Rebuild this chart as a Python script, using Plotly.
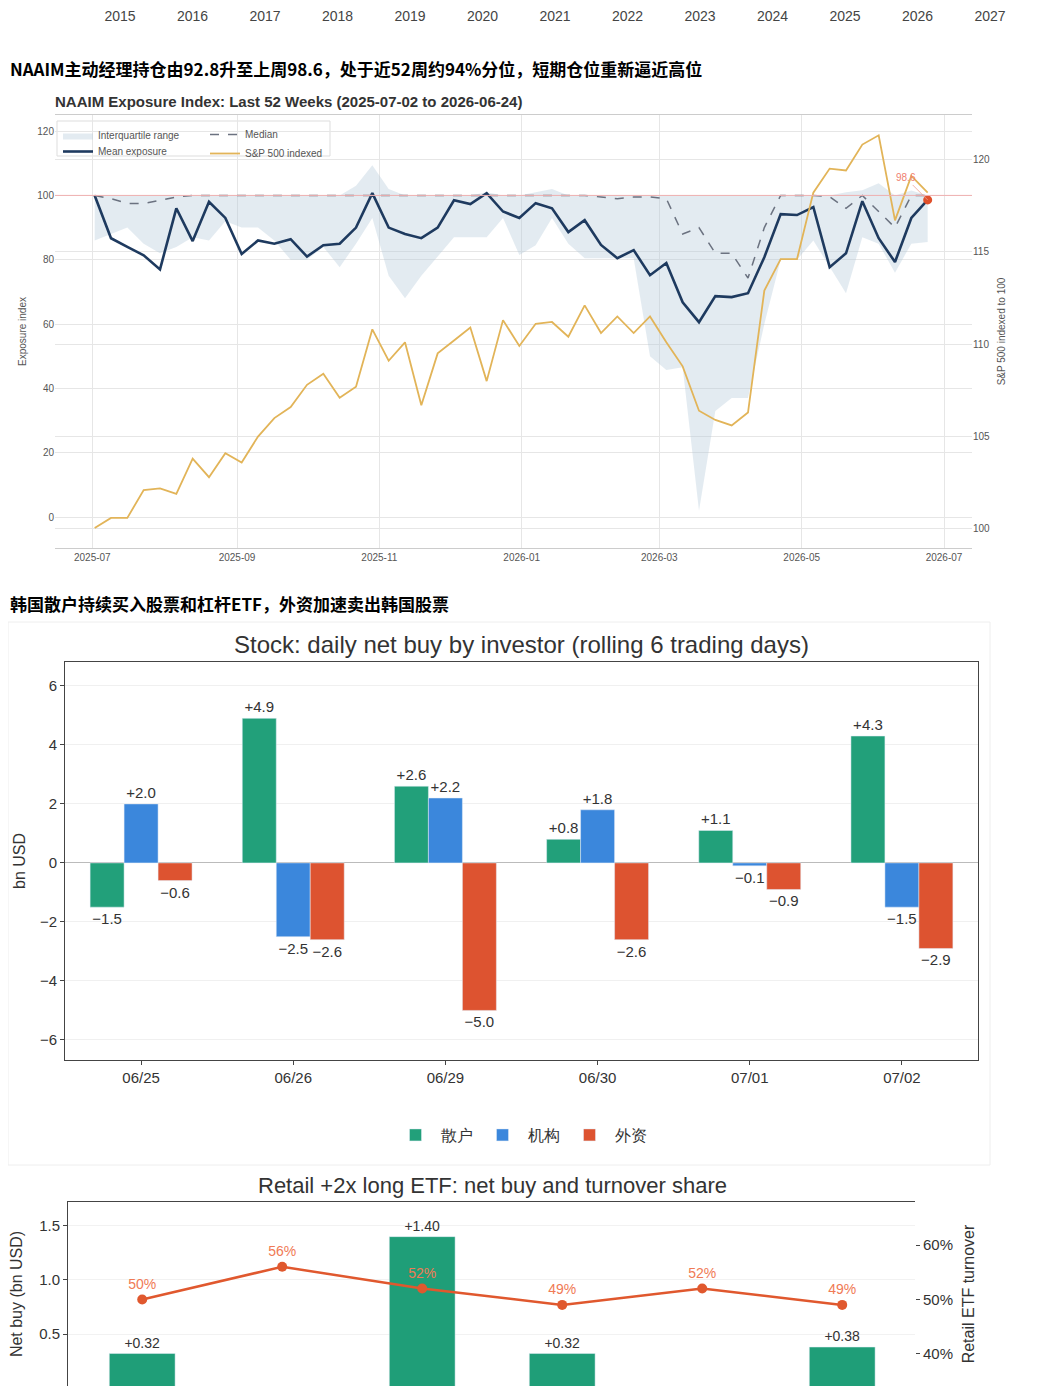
import pandas as pd
import plotly.graph_objects as go

# ---------- data ----------
years = list(range(2015, 2028))

weeks = pd.date_range("2025-07-02", periods=52, freq="7D")
mean_exposure = [100, 86.7, 84, 81.4, 77, 96, 85.8, 98, 93, 81.8, 86, 85, 86.4, 81, 84.5, 85, 90, 100.7,
                 90, 88, 86.7, 90, 98.5, 97.3, 100.7, 95, 93, 97.6, 96, 88.6, 92.3, 84.6, 80.5, 83, 75.2,
                 79, 66.8, 60.6, 68.7, 68.4, 69.6, 80.8, 94.2, 93.9, 96.4, 77.7, 82, 98.2, 86.7, 79.3, 93, 98.6]
median_exposure = [100, 99, 97.5, 97.5, 98.5, 99.5, 100, 100, 100, 100, 100, 100, 100, 100, 100, 100, 100, 100,
                   100, 100, 100, 100, 100, 100, 100, 100, 100, 100, 100, 100, 100, 99.5, 99, 99.5, 99.5,
                   99, 88, 90, 82, 82, 74.3, 90, 100, 100, 100, 99.6, 96, 100, 95, 90, 100, 100]
iqr_low = [86, 88, 90, 85, 82, 84, 87, 86, 92, 90, 90, 86, 80, 80, 84, 77.7, 85, 93, 75, 68, 75, 81, 87, 87,
           87, 93, 81.5, 84.5, 93, 85, 80.5, 80.5, 80.5, 80.5, 50, 45.7, 46.6, 2, 33, 37, 37, 60, 80, 80,
           86, 77.7, 69.6, 87, 85, 76, 85, 85.5]
iqr_high = [100, 100, 100, 100, 100, 100, 100, 100, 100, 100, 100, 100, 100, 100, 100, 100, 103, 109.4,
            102, 100, 100, 100, 100, 100, 101, 100, 100, 101, 102, 100, 100, 100, 100, 100, 100, 100, 100,
            100, 100, 100, 100, 100, 100, 100, 100, 100, 101, 101.6, 103.8, 100, 101.5, 100]
sp500_indexed = [100.05, 100.6, 100.6, 102.1, 102.2, 101.9, 103.8, 102.8, 104.1, 103.6, 105, 106, 106.6, 107.8,
                 108.4, 107.1, 107.7, 110.8, 109.1, 110.1, 106.7, 109.5, 110.2, 110.9, 108, 111.3, 109.9,
                 111.1, 111.2, 110.4, 112.1, 110.6, 111.5, 110.6, 111.5, 110.1, 108.8, 106.4, 105.9, 105.6,
                 106.3, 112.9, 114.6, 114.6, 118.2, 119.5, 119.4, 120.8, 121.3, 116.7, 119.1, 118.2]
naaim_ticks = ["2025-07-01", "2025-09-01", "2025-11-01", "2026-01-01", "2026-03-01", "2026-05-01", "2026-07-01"]

days = ["06/25", "06/26", "06/29", "06/30", "07/01", "07/02"]
retail = [-1.5, 4.9, 2.6, 0.8, 1.1, 4.3]
institution = [2.0, -2.5, 2.2, 1.8, -0.1, -1.5]
foreign = [-0.6, -2.6, -5.0, -2.6, -0.9, -2.9]

etf_net_buy = [0.32, -0.1, 1.40, 0.32, -0.1, 0.38]
etf_share = [50, 56, 52, 49, 52, 49]

OFF = 8.0
H = 1386.0 - OFF
W = 1040.0 - OFF
def py(px): return min(1.0, max(0.0, 1 - (px - OFF) / H))
def pxx(px): return min(1.0, max(0.0, (px - OFF) / W))

fig = go.Figure()

# ---------- top strip (axis of chart above) ----------
fig.add_trace(go.Scatter(x=years, y=[0]*len(years), mode="markers", marker=dict(opacity=0),
                         xaxis="x4", yaxis="y4", showlegend=False, hoverinfo="skip"))

# ---------- NAAIM chart ----------
fig.add_trace(go.Scatter(x=weeks, y=iqr_low, mode="lines", line=dict(width=0), showlegend=False,
                         xaxis="x", yaxis="y", hoverinfo="skip"))
fig.add_trace(go.Scatter(x=weeks, y=iqr_high, mode="lines", line=dict(width=0), fill="tonexty",
                         fillcolor="rgba(176,198,216,0.35)", name="Interquartile range",
                         legend="legend", xaxis="x", yaxis="y"))
fig.add_trace(go.Scatter(x=weeks, y=mean_exposure, mode="lines", line=dict(color="#1e3a5f", width=2.6),
                         name="Mean exposure", legend="legend4", xaxis="x", yaxis="y"))
fig.add_trace(go.Scatter(x=weeks, y=median_exposure, mode="lines",
                         line=dict(color="#6b7280", width=1.5, dash="dash"),
                         name="Median", legend="legend2", xaxis="x", yaxis="y"))
fig.add_trace(go.Scatter(x=weeks, y=sp500_indexed, mode="lines", line=dict(color="#e2b458", width=1.8),
                         name="S&P 500 indexed", legend="legend2", xaxis="x", yaxis="y2"))
fig.add_trace(go.Scatter(x=[weeks[-1]], y=[mean_exposure[-1]], mode="markers",
                         marker=dict(color="#e0502a", size=9), showlegend=False, xaxis="x", yaxis="y"))
fig.add_annotation(x=weeks[-1], y=mean_exposure[-1], xref="x", yref="y", text=f"{mean_exposure[-1]}",
                   showarrow=True, ax=-22, ay=-22, arrowhead=0, arrowwidth=0.8, arrowcolor="#f0a090",
                   font=dict(size=10, color="#f08070"))

# ---------- stock bar chart ----------
for name, vals, col in [("散户", retail, "#22a07a"), ("机构", institution, "#3b87dc"), ("外资", foreign, "#dd5330")]:
    fig.add_trace(go.Bar(x=days, y=vals, name=name, marker_color=col, legend="legend3",
                         text=[f"{v:+.1f}".replace("-", "−") for v in vals], textposition="outside",
                         textfont=dict(size=15, color="#333"), cliponaxis=False,
                         xaxis="x2", yaxis="y3"))

# ---------- ETF chart ----------
fig.add_trace(go.Bar(x=list(range(6)), y=etf_net_buy, marker_color="#1f9e78", width=0.47,
                     text=[f"{v:+.2f}" if v > 0 else "" for v in etf_net_buy], textposition="outside",
                     textfont=dict(size=14, color="#333"), cliponaxis=False, showlegend=False,
                     xaxis="x3", yaxis="y5"))
fig.add_trace(go.Scatter(x=list(range(6)), y=etf_share, mode="lines+markers+text",
                         line=dict(color="#e0582e", width=2.5), marker=dict(size=10, color="#e0582e"),
                         text=[f"{v}%" for v in etf_share], textposition="top center",
                         textfont=dict(size=14, color="#f07a55"), showlegend=False,
                         xaxis="x3", yaxis="y6"))

grid = "#e6e6e6"
tick_font = dict(size=10, color="#555", family="Liberation Sans")
small_leg = dict(xanchor="left", yanchor="top", bgcolor="rgba(255,255,255,0)",
                 font=dict(size=10, color="#555"), itemwidth=30, tracegroupgap=0)
fig.update_layout(
    width=int(W), height=int(H), autosize=False, margin=dict(l=0, r=0, t=0, b=0),
    paper_bgcolor="white", plot_bgcolor="white", font=dict(family="Liberation Sans"),
    barmode="group", bargap=0.33, bargroupgap=0,
    # top strip
    xaxis4=dict(domain=[0, 1], range=[2015 - (120 - OFF) / 72.5, 2015 + (1040 - 120) / 72.5],
                tickvals=years, anchor="y4", ticklabelstandoff=-3,
                showgrid=False, zeroline=False, showline=False, ticks="",
                tickfont=dict(size=14, color="#444")),
    yaxis4=dict(domain=[0.999, 1.0], visible=False, range=[0, 1]),
    # NAAIM
    xaxis=dict(domain=[pxx(55), pxx(972)], anchor="y", range=["2025-06-15", "2026-07-13"],
               tickvals=naaim_ticks, ticktext=[t[:7] for t in naaim_ticks], tickfont=tick_font,
               showgrid=True, gridcolor=grid, showline=True, linecolor="#ccc", mirror=True, zeroline=False),
    yaxis=dict(domain=[py(548), py(115)], anchor="x", range=[-9.6, 125], tickvals=[0, 20, 40, 60, 80, 100, 120],
               tickfont=tick_font, showgrid=True, gridcolor=grid, zeroline=False,
               title=dict(text="Exposure index", font=dict(size=10, color="#555"), standoff=8)),
    yaxis2=dict(overlaying="y", side="right", anchor="x", range=[98.97, 122.4], tickvals=[100, 105, 110, 115, 120],
                tickfont=tick_font, showgrid=True, gridcolor=grid, zeroline=False,
                title=dict(text="S&P 500 indexed to 100", font=dict(size=10, color="#555"), standoff=8)),
    # stock bars
    xaxis2=dict(domain=[pxx(65), pxx(978)], anchor="y3", tickfont=dict(size=15, color="#333"),
                showline=True, linecolor="#444", mirror=True, showgrid=False, ticks="outside", ticklen=4,
                tickcolor="#444"),
    yaxis3=dict(domain=[py(1060), py(662)], anchor="x2", range=[-6.68, 6.81], tickvals=[-6, -4, -2, 0, 2, 4, 6],
                ticktext=["−6", "−4", "−2", "0", "2", "4", "6"], tickfont=dict(size=15, color="#333"),
                showline=True, linecolor="#444", mirror=True, showgrid=True, gridcolor="#f0f0f0",
                zeroline=True, zerolinecolor="#bbb", zerolinewidth=1, ticks="outside", ticklen=4, tickcolor="#444",
                title=dict(text="bn USD", font=dict(size=16, color="#333"), standoff=10)),
    # ETF
    xaxis3=dict(domain=[pxx(68), pxx(915)], anchor="y5", range=[-0.53, 5.52], showticklabels=False,
                showline=True, linecolor="#444", mirror=True, showgrid=False, zeroline=False),
    yaxis5=dict(domain=[0, py(1202)], anchor="x3", range=[0.02, 1.72], tickvals=[0, 0.5, 1.0, 1.5],
                ticktext=["0.0", "0.5", "1.0", "1.5"], tickfont=dict(size=15, color="#333"),
                showline=True, linecolor="#444", showgrid=True, gridcolor="#f2f2f2", zeroline=False,
                ticks="outside", ticklen=4, tickcolor="#444",
                title=dict(text="Net buy (bn USD)", font=dict(size=16, color="#333"), standoff=12)),
    yaxis6=dict(overlaying="y5", side="right", anchor="x3", range=[34.1, 67.9], tickvals=[40, 50, 60],
                ticktext=["40%", "50%", "60%"], tickfont=dict(size=15, color="#333"), showgrid=False,
                zeroline=False, ticks="outside", ticklen=4, tickcolor="#444",
                title=dict(text="Retail ETF turnover", font=dict(size=16, color="#333"), standoff=10)),
    legend=dict(x=pxx(58), y=py(121), **small_leg),
    legend4=dict(x=pxx(58), y=py(137), **small_leg),
    legend2=dict(x=pxx(205), y=py(120), **small_leg),
    legend3=dict(orientation="h", x=pxx(521), xanchor="center", y=py(1118), yanchor="top",
                 font=dict(size=16, color="#333"), itemwidth=40),
)

# titles and headings
fig.add_annotation(x=pxx(4), y=py(69), xref="paper", yref="paper", xanchor="left", yanchor="middle",
                   showarrow=False, text="<b>NAAIM主动经理持仓由92.8升至上周98.6，处于近52周约94%分位，短期仓位重新逼近高位</b>",
                   font=dict(size=17, color="#000", family="Noto Sans CJK SC"))
fig.add_annotation(x=pxx(53), y=py(101), xref="paper", yref="paper", xanchor="left", yanchor="middle",
                   showarrow=False, text="<b>NAAIM Exposure Index: Last 52 Weeks (2025-07-02 to 2026-06-24)</b>",
                   font=dict(size=15, color="#333"))
fig.add_annotation(x=pxx(4), y=py(603), xref="paper", yref="paper", xanchor="left", yanchor="middle",
                   showarrow=False, text="<b>韩国散户持续买入股票和杠杆ETF，外资加速卖出韩国股票</b>",
                   font=dict(size=17, color="#000", family="Noto Sans CJK SC"))
fig.add_annotation(x=pxx(521), y=py(644), xref="paper", yref="paper", xanchor="center", yanchor="middle",
                   showarrow=False, text="Stock: daily net buy by investor (rolling 6 trading days)",
                   font=dict(size=24, color="#333"))
fig.add_annotation(x=pxx(492), y=py(1185), xref="paper", yref="paper", xanchor="center", yanchor="middle",
                   showarrow=False, text="Retail +2x long ETF: net buy and turnover share",
                   font=dict(size=22, color="#333"))

fig.add_hline(y=100, line=dict(color="#f0b0b0", width=1), xref="x", yref="y")
fig.add_shape(type="rect", xref="paper", yref="paper", x0=pxx(57), x1=pxx(330), y0=py(156), y1=py(121),
              line=dict(color="#dddddd", width=1), fillcolor="rgba(255,255,255,0.85)", layer="below")
fig.add_shape(type="rect", xref="paper", yref="paper", x0=0, x1=pxx(990), y0=py(1165), y1=py(622),
              line=dict(color="#eeeeee", width=1))

fig.write_html("out.html")
